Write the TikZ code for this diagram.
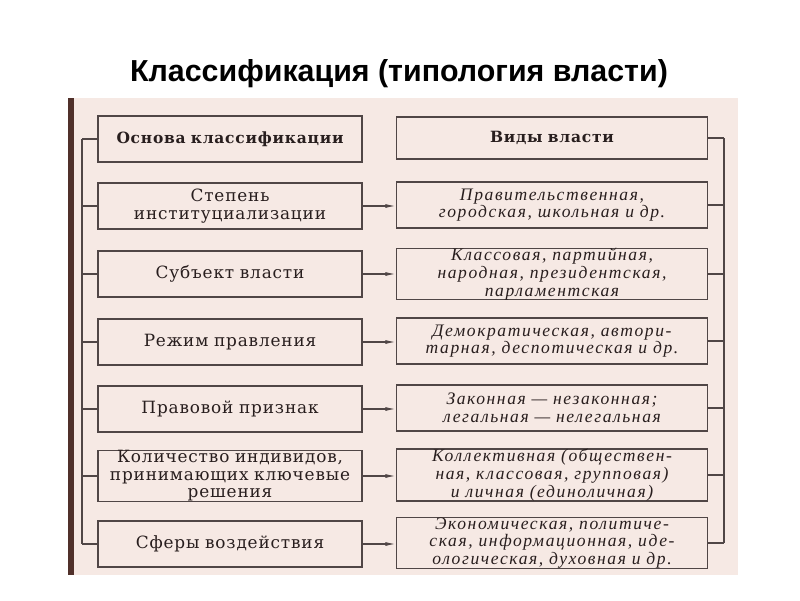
\documentclass[tikz,border=0pt]{standalone}
\usepackage{fontspec}
\setmainfont{DejaVu Serif}
\newfontfamily\titlefont{Liberation Sans}
\newfontfamily\scanfont[LetterSpace=5,WordSpace=1.8]{DejaVu Serif}
\newfontfamily\kindfont[LetterSpace=9,WordSpace=1.6]{Liberation Serif}
\usetikzlibrary{arrows.meta}
\definecolor{scanbg}{RGB}{246,233,228}
\definecolor{spine}{RGB}{80,48,42}
\definecolor{ink}{RGB}{80,70,70}
\definecolor{print}{RGB}{40,30,30}

\begin{document}
\begin{tikzpicture}[x=0.025cm,y=-0.025cm]
    \tikzstyle{kind}=[draw=ink,fill=scanbg,line width=0.9pt,text=print,align=center,
        font=\scanfont\fontsize{12}{12.4}\selectfont,inner sep=0pt,minimum height=1.15cm]
    \tikzstyle{basis}=[kind,minimum width=6.6cm,text width=6.6cm]
    \tikzstyle{type}=[kind,minimum width=7.775cm,text width=7.7cm,font=\kindfont\itshape\fontsize{12.5}{12.6}\selectfont]
    \tikzstyle{head}=[font=\scanfont\bfseries\fontsize{11}{12}\selectfont]
    \tikzstyle{link}=[draw=ink,line width=0.9pt]

    \useasboundingbox (0,0) rectangle (800,600);
    \node[font=\titlefont\bfseries\fontsize{21.6}{26}\selectfont](title) at (399,74){Классификация (типология власти)};

    \fill[scanbg] (68,98) rectangle (738,575);
    \fill[spine] (68,98) rectangle (74,575);

    \begin{scope}[shift={(230,0)}]
    \node[basis,head](osnova) at (0,139){Основа классификации};
    \node[basis](stepen) at (0,206){Степень\\институциализации};
    \node[basis](subekt) at (0,274){Субъект власти};
    \node[basis](rezhim) at (0,342){Режим правления};
    \node[basis](pravo) at (0,409){Правовой признак};
    \node[basis,minimum height=1.18cm](kolvo) at (0,476){Количество индивидов,\\принимающих ключевые\\решения};
    \node[basis](sfery) at (0,544){Сферы воздействия};
    \end{scope}

    \begin{scope}[shift={(552,0)}]
    \node[type,head,minimum height=1.05cm](vidy) at (0,138){Виды власти};
    \node[type](pravit) at (0,205){Правительственная,\\городская, школьная и др.};
    \node[type,minimum height=1.25cm](klass) at (0,274){Классовая, партийная,\\народная, президентская,\\парламентская};
    \node[type](demokr) at (0,341){Демократическая, автори-\\тарная, деспотическая и др.};
    \node[type](zakon) at (0,408){Законная — незаконная;\\легальная — нелегальная};
    \node[type,minimum height=1.2cm](kollekt) at (0,475){Коллективная (обществен-\\ная, классовая, групповая)\\и личная (единоличная)};
    \node[type,minimum height=1.2cm](ekonom) at (0,543){Экономическая, политиче-\\ская, информационная, иде-\\ологическая, духовная и др.};
    \end{scope}

    \coordinate (ltop) at (82,139);
    \coordinate (lbot) at (82,544);
    \coordinate (rtop) at (724,138);
    \coordinate (rbot) at (724,543);
    \draw[link] (ltop) -- (lbot);
    \draw[link] (rtop) -- (rbot);
    \foreach \n in {osnova,stepen,subekt,rezhim,pravo,kolvo,sfery}
        \draw[link] (\n.west) -- (\n.west -| ltop);
    \foreach \n in {vidy,pravit,klass,demokr,zakon,kollekt,ekonom}
        \draw[link] (\n.east) -- (\n.east -| rtop);

    \foreach \a/\b in {stepen/pravit,subekt/klass,rezhim/demokr,pravo/zakon,kolvo/kollekt,sfery/ekonom}
        \draw[link,-{Latex[length=2.6mm,width=1mm]}] (\a.east) -- (\a.east -| \b.west);
\end{tikzpicture}
\end{document}
